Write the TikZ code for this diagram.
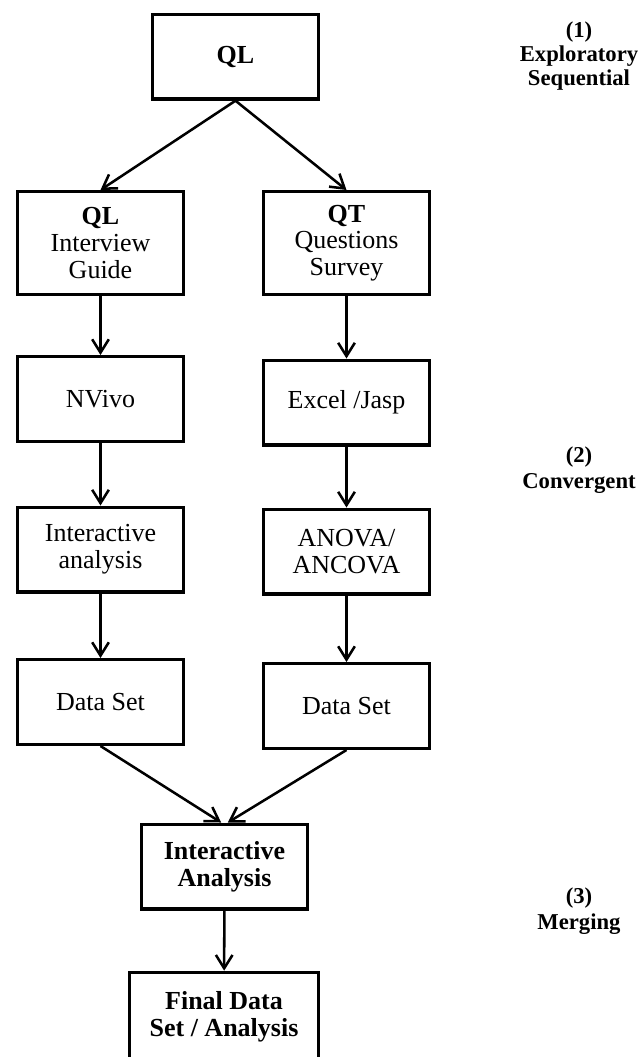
\documentclass[tikz,border=0pt]{standalone}
\usepackage{fontspec}
\setmainfont{Liberation Serif}
\usetikzlibrary{arrows.meta}
\begin{document}
\begin{tikzpicture}[x=0.75pt,y=-0.75pt,
  box/.style={draw, line width=2.5pt, minimum width=124.2pt, minimum height=63.5pt,
    align=center, inner sep=2pt, font=\fontsize{19.5}{20}\selectfont},
  tallbox/.style={box, minimum height=77pt},
  boldbox/.style={box, font=\bfseries\fontsize{19.5}{20}\selectfont},
  flow/.style={line width=1.9pt, -{Straight Barb[length=10pt,width=12.5pt,line width=1.9pt]}},
  phase/.style={align=center, font=\bfseries\fontsize{17}{18}\selectfont}]
\clip (0,0) rectangle (639,1057);
\fill[white] (0,0) rectangle (639,1057);

% (1) exploratory sequential stage
\node[boldbox] (top) at (235.5,56.7) {QL};
\node[tallbox] (l1) at (100.5,243) {\textbf{QL}\\Interview\\Guide};
\node[tallbox] (r1) at (346.5,243) {\textbf{QT}\\Questions\\Survey};

% (2) convergent stage: two parallel strands
\node[box] (l2) at (100.5,399) {NVivo};
\node[box] (r2) at (346.5,402.5) {Excel /Jasp};
\node[box] (l3) at (100.5,549.5) {Interactive\\analysis};
\node[box] (r3) at (346.5,551.5) {ANOVA/\\ANCOVA};
\node[box] (l4) at (100.5,702) {Data Set};
\node[box] (r4) at (346.5,706) {Data Set};

% (3) merging stage
\node[boldbox] (m) at (224.5,866.5) {Interactive\\Analysis};
\node[boldbox, minimum width=141.5pt, minimum height=67pt] (f) at (224,1017) {Final Data\\Set / Analysis};

% stage labels
\node[phase] (p1) at (579,56) {(1)\\Exploratory\\Sequential};
\node[phase, font=\bfseries\fontsize{17}{20}\selectfont] (p2) at (579,470) {(2)\\Convergent};
\node[phase, font=\bfseries\fontsize{17}{20}\selectfont] (p3) at (579,911) {(3)\\Merging};

% connectors
\draw[flow] (top.south) -- (l1.north);
\draw[flow] (top.south) -- (r1.north);
\draw[flow] (l1) -- (l2);
\draw[flow] (r1) -- (r2);
\draw[flow] (l2) -- (l3);
\draw[flow] (r2) -- (r3);
\draw[flow] (l3) -- (l4);
\draw[flow] (r3) -- (r4);
\draw[flow] (l4.south) -- ([xshift=-2.5pt]m.north);
\draw[flow] (r4.south) -- ([xshift=2.5pt]m.north);
\draw[flow] (m) -- (f);
\end{tikzpicture}
\end{document}
